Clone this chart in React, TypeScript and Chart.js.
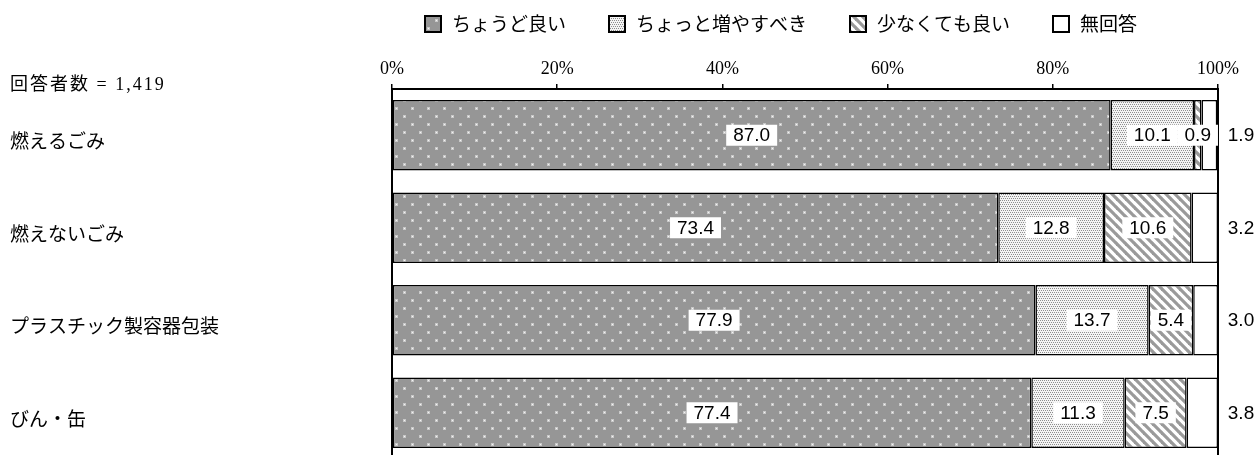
import React, { useEffect, useRef } from 'react';
import { Chart, registerables } from 'chart.js';

Chart.register(...registerables);

// ---- Data ----
const categories = ['燃えるごみ', '燃えないごみ', 'プラスチック製容器包装', 'びん・缶'];
const seriesNames = ['ちょうど良い', 'ちょっと増やすべき', '少なくても良い', '無回答'];
const justRight = [87.0, 73.4, 77.9, 77.4];
const shouldIncrease = [10.1, 12.8, 13.7, 11.3];
const canReduce = [0.9, 10.6, 5.4, 7.5];
const noAnswer = [1.9, 3.2, 3.0, 3.8];
const tickValues = [0, 20, 40, 60, 80, 100];
const respondentsNote = '回答者数 = 1,419';

const SANS = '"Noto Sans CJK JP", "Liberation Sans", sans-serif';
const NUM = '"Liberation Sans", Arial, sans-serif';
const SERIF = '"Liberation Serif", "Noto Sans CJK JP", serif';

function tile(w: number, h: number, draw: (g: CanvasRenderingContext2D) => void) {
  const c = document.createElement('canvas');
  c.width = w;
  c.height = h;
  const g = c.getContext('2d')!;
  draw(g);
  return c;
}

function makePatterns(ctx: CanvasRenderingContext2D) {
  const dots = tile(16, 16, (g) => {
    g.fillStyle = '#969696';
    g.fillRect(0, 0, 16, 16);
    g.fillStyle = '#c8c8c8';
    g.fillRect(3, 3, 3, 3);
    g.fillRect(11, 11, 3, 3);
    g.fillStyle = '#f4f4f4';
    g.fillRect(4, 4, 1, 1);
    g.fillRect(12, 12, 1, 1);
  });
  const fine = tile(4, 4, (g) => {
    g.fillStyle = '#f4f4f4';
    g.fillRect(0, 0, 4, 4);
    g.fillStyle = '#8e8e8e';
    g.fillRect(0, 0, 1, 1);
    g.fillRect(2, 0, 1, 1);
    g.fillRect(1, 2, 1, 1);
    g.fillRect(3, 2, 1, 1);
  });
  const stripes = tile(9, 9, (g) => {
    g.fillStyle = '#ffffff';
    g.fillRect(0, 0, 9, 9);
    g.strokeStyle = '#9a9a9a';
    g.lineWidth = 3.2;
    for (const k of [-9, 0, 9]) {
      g.beginPath();
      g.moveTo(k - 1, -1);
      g.lineTo(k + 10, 10);
      g.stroke();
    }
  });
  return [
    ctx.createPattern(dots, 'repeat')!,
    ctx.createPattern(fine, 'repeat')!,
    ctx.createPattern(stripes, 'repeat')!,
    '#ffffff',
  ];
}

const framePlugin = {
  id: 'frame',
  beforeDatasetsDraw(chart: any) {
    const { ctx, chartArea } = chart;
    ctx.save();
    ctx.strokeStyle = '#000';
    ctx.lineWidth = 2;
    ctx.beginPath();
    ctx.moveTo(chartArea.right, chartArea.top - 1);
    ctx.lineTo(chartArea.right, chartArea.bottom);
    ctx.stroke();
    ctx.restore();
  },
};

const valueLabelPlugin = {
  id: 'valueLabels',
  afterDatasetsDraw(chart: any) {
    const { ctx, chartArea } = chart;
    ctx.save();
    ctx.font = '19px ' + NUM;
    ctx.textBaseline = 'middle';
    ctx.textAlign = 'center';
    chart.data.datasets.forEach((ds: any, di: number) => {
      const meta = chart.getDatasetMeta(di);
      meta.data.forEach((el: any, i: number) => {
        const v = ds.data[i] as number;
        const text = v.toFixed(1);
        const { x, base, y } = el.getProps(['x', 'base', 'y'], true);
        const cx = di === 3 ? chartArea.right + 23 : (x + base) / 2;
        const w = ctx.measureText(text).width;
        ctx.fillStyle = '#ffffff';
        ctx.fillRect(cx - w / 2 - 7, y - 10.5, w + 14, 21);
        ctx.fillStyle = '#000';
        ctx.fillText(text, cx, y + 1);
      });
    });
    ctx.restore();
  },
};

const textPlugin = {
  id: 'texts',
  afterDraw(chart: any) {
    const { ctx } = chart;
    ctx.save();
    // category labels
    ctx.fillStyle = '#000';
    ctx.font = '19px ' + SANS;
    ctx.textAlign = 'left';
    ctx.textBaseline = 'middle';
    const yScale = chart.scales.y;
    chart.data.labels.forEach((lab: string, i: number) => {
      ctx.fillText(lab, 10, yScale.getPixelForValue(i) + 6);
    });
    // respondents note
    ctx.font = '18px ' + SERIF;
    if ('letterSpacing' in ctx) (ctx as any).letterSpacing = '2px';
    ctx.fillText(respondentsNote, 10, 85);
    if ('letterSpacing' in ctx) (ctx as any).letterSpacing = '0px';
    // legend
    let lx = 424;
    const ly = 24;
    const box = 18;
    ctx.font = '19px ' + SANS;
    chart.data.datasets.forEach((ds: any) => {
      ctx.fillStyle = ds.backgroundColor;
      ctx.fillRect(lx, ly - box / 2, box, box);
      ctx.strokeStyle = '#000';
      ctx.lineWidth = 2;
      ctx.strokeRect(lx + 1, ly - box / 2 + 1, box - 2, box - 2);
      ctx.fillStyle = '#000';
      ctx.fillText(ds.label, lx + box + 10, ly);
      lx += box + 10 + ctx.measureText(ds.label).width + 42;
    });
    ctx.restore();
  },
};

export default function App() {
  const ref = useRef<HTMLCanvasElement | null>(null);

  useEffect(() => {
    const canvas = ref.current!;
    const ctx = canvas.getContext('2d')!;
    const fills = makePatterns(ctx);
    const seriesValues = [justRight, shouldIncrease, canReduce, noAnswer];

    const chart = new Chart(canvas, {
      type: 'bar',
      data: {
        labels: categories,
        datasets: seriesNames.map((name, i) => ({
          label: name,
          data: seriesValues[i],
          backgroundColor: fills[i] as any,
          borderColor: '#000',
          borderWidth: 1.5,
          borderSkipped: false,
          barPercentage: 0.762,
          categoryPercentage: 1,
        })),
      },
      options: {
        indexAxis: 'y',
        responsive: false,
        animation: false,
        devicePixelRatio: 1,
        layout: { padding: { top: 0, bottom: 16, left: 0, right: 41 } },
        plugins: {
          legend: { display: false },
          tooltip: { enabled: false },
        },
        scales: {
          x: {
            position: 'top',
            stacked: true,
            min: 0,
            max: 100,
            afterBuildTicks: (scale: any) => {
              scale.ticks = tickValues.map((v) => ({ value: v }));
            },
            afterFit: (scale: any) => {
              scale.height = 89;
            },
            ticks: {
              callback: (v: any) => v + '%',
              font: { family: '"Liberation Serif", serif', size: 18 },
              color: '#000',
              padding: 4,
              maxRotation: 0,
              autoSkip: false,
            },
            grid: {
              drawOnChartArea: false,
              drawTicks: true,
              tickLength: 5,
              color: '#000',
              lineWidth: 1.5,
            },
            border: { display: true, color: '#000', width: 2 },
          },
          y: {
            stacked: true,
            afterFit: (scale: any) => {
              scale.width = 392;
            },
            ticks: { display: false },
            grid: { display: false, drawTicks: false },
            border: { display: true, color: '#000', width: 2 },
          },
        },
      },
      plugins: [framePlugin, valueLabelPlugin, textPlugin],
    });

    return () => chart.destroy();
  }, []);

  return (
    <div
      style={{
        position: 'fixed',
        left: 0,
        top: 0,
        width: 1259,
        height: 455,
        overflow: 'hidden',
        background: '#fff',
      }}
    >
      <canvas ref={ref} width={1259} height={475} style={{ width: 1259, height: 475, display: 'block' }} />
    </div>
  );
}
